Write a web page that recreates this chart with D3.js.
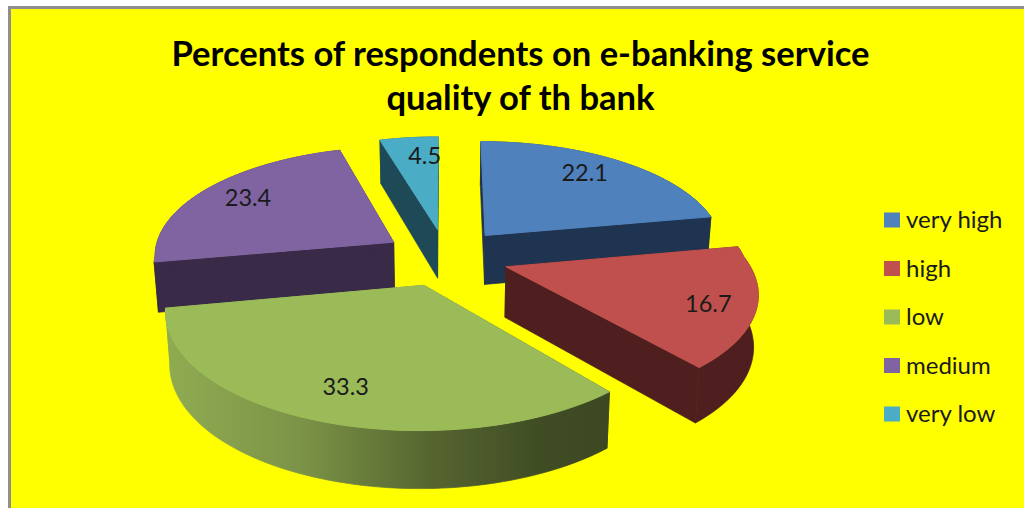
<!DOCTYPE html>
<html>
<head>
<meta charset="utf-8">
<script src="https://cdn.jsdelivr.net/npm/d3@7"></script>
<style>
  html, body { margin: 0; padding: 0; background: #fff; }
  svg { display: block; }
  text { font-family: Lato, "Open Sans", sans-serif; }
</style>
</head>
<body>
<div id="chart"></div>
<script>
// Survey shares, clockwise from twelve o'clock
const categories = ["very high", "high", "low", "medium", "very low"];
const percents = [22.1, 16.7, 33.3, 23.4, 4.5];
const titleLines = ["Percents of respondents on e-banking service", "quality of th bank"];

const topColors = ["#4f81bd", "#c0504d", "#9bbb59", "#8064a2", "#4bacc6"];
const wallColors = ["#1f3450", "#4f1e1e", "#9bbb59", "#392a48", "#1e4a57"];
// Back slices are painted first so nearer ones overlap them
const paintOrder = [4, 0, 3, 1, 2];
// Label placement: radial fraction and angular nudge in degrees per slice
const labelRadius = [0.8, 0.82, 0.77, 0.795, 0.79];
const labelTurn = [-4, 1.5, 0, 2.5, 3.5];

const width = 1024, height = 508;
const svg = d3.select("#chart").append("svg")
  .attr("width", width).attr("height", height);

// Frame and plot background
svg.append("rect").attr("width", width).attr("height", height).attr("fill", "#fff");
svg.append("rect").attr("x", 8).attr("y", 6).attr("width", width).attr("height", height).attr("fill", "#8f8f8f");
svg.append("rect").attr("x", 11).attr("y", 9).attr("width", width).attr("height", height).attr("fill", "#ffff00");

// Title
svg.append("g").selectAll("text").data(titleLines).join("text")
  .attr("x", 520.5)
  .attr("y", (d, i) => 66 + i * 44)
  .attr("text-anchor", "middle")
  .attr("font-size", 34.6)
  .attr("font-weight", 700)
  .attr("fill", "#000")
  .text(d => d);

// Tilted-disc projection with a mild perspective
const cx = 446, cy = 257, rx = 240, ry = 110, explode = 0.26, thickness = 50;
function project(px, py, lower) {
  const s = 1 + (py > 0 ? 0.215 : 0.105) * py;
  const k = lower ? 0.985 : 1;
  const wall = s < 1 ? s : 1 + 0.6 * (s - 1);
  return [cx + rx * px * s * k, cy + ry * py * s + (lower ? thickness * wall : 0)];
}

const pie = d3.pie().sort(null).value(d => d);
const arcs = pie(percents);
const line = d3.line();

function sliceOutline(a) {
  const mid = (a.startAngle + a.endAngle) / 2;
  const ox = explode * Math.sin(mid), oy = -explode * Math.cos(mid);
  const steps = Math.max(4, Math.ceil((a.endAngle - a.startAngle) / 0.03));
  const rim = d3.range(steps + 1).map(i => {
    const t = a.startAngle + (a.endAngle - a.startAngle) * i / steps;
    return [ox + Math.sin(t), oy - Math.cos(t)];
  });
  return { apex: [ox, oy], rim, ox, oy };
}

// Shaded wall of the largest slice
const defs = svg.append("defs");
const shade = defs.append("linearGradient").attr("id", "lowWall")
  .attr("gradientUnits", "userSpaceOnUse")
  .attr("x1", 170).attr("x2", 610).attr("y1", 0).attr("y2", 0);
shade.selectAll("stop")
  .data([[0, "#8fab51"], [0.3, "#7b9347"], [0.6, "#55642f"], [0.85, "#3f4c24"], [1, "#3c4822"]])
  .join("stop")
  .attr("offset", d => d[0])
  .attr("stop-color", d => d[1]);

const slices = svg.append("g").selectAll("g")
  .data(paintOrder).join("g");

slices.each(function (idx) {
  const g = d3.select(this);
  const { apex, rim } = sliceOutline(arcs[idx]);
  const fill = idx === 2 ? "url(#lowWall)" : wallColors[idx];

  // The two radial walls
  [rim[0], rim[rim.length - 1]].forEach(edge => {
    g.append("path")
      .attr("d", line([project(apex[0], apex[1], false), project(edge[0], edge[1], false),
                       project(edge[0], edge[1], true), project(apex[0], apex[1], true)]) + "Z")
      .attr("fill", fill)
      .attr("stroke", fill)
      .attr("stroke-width", 0.7);
  });
  // Curved outer wall as a single band, so its shading stays seamless
  const band = rim.map(p => project(p[0], p[1], false))
    .concat(rim.slice().reverse().map(p => project(p[0], p[1], true)));
  g.append("path").attr("d", line(band) + "Z")
    .attr("fill", fill)
    .attr("stroke", fill)
    .attr("stroke-width", 0.7);
  // Top face, stroked in its own colour to cover the wall's edge
  const top = [apex].concat(rim).map(p => project(p[0], p[1], false));
  g.append("path").attr("d", line(top) + "Z")
    .attr("fill", topColors[idx])
    .attr("stroke", topColors[idx])
    .attr("stroke-width", 1);
});

// Value labels on the top faces
svg.append("g").selectAll("text").data(arcs).join("text")
  .each(function (a, i) {
    const { ox, oy } = sliceOutline(a);
    const mid = (a.startAngle + a.endAngle) / 2 + labelTurn[i] * Math.PI / 180;
    const p = project(ox + labelRadius[i] * Math.sin(mid), oy - labelRadius[i] * Math.cos(mid), false);
    d3.select(this).attr("x", p[0]).attr("y", p[1]);
  })
  .attr("text-anchor", "middle")
  .attr("dominant-baseline", "central")
  .attr("font-size", 23.5)
  .attr("fill", "#1a1a1a")
  .text(a => a.data);

// Legend
const legendY = d3.scalePoint().domain(categories).range([220, 414]);
const legend = svg.append("g").selectAll("g").data(categories).join("g")
  .attr("transform", d => `translate(884,${legendY(d)})`);
legend.append("rect")
  .attr("y", -7.5).attr("width", 16).attr("height", 15)
  .attr("fill", (d, i) => topColors[i]);
legend.append("text")
  .attr("x", 22)
  .attr("y", 8)
  .attr("font-size", 24)
  .attr("fill", "#1a1a1a")
  .text(d => d);
</script>
</body>
</html>
